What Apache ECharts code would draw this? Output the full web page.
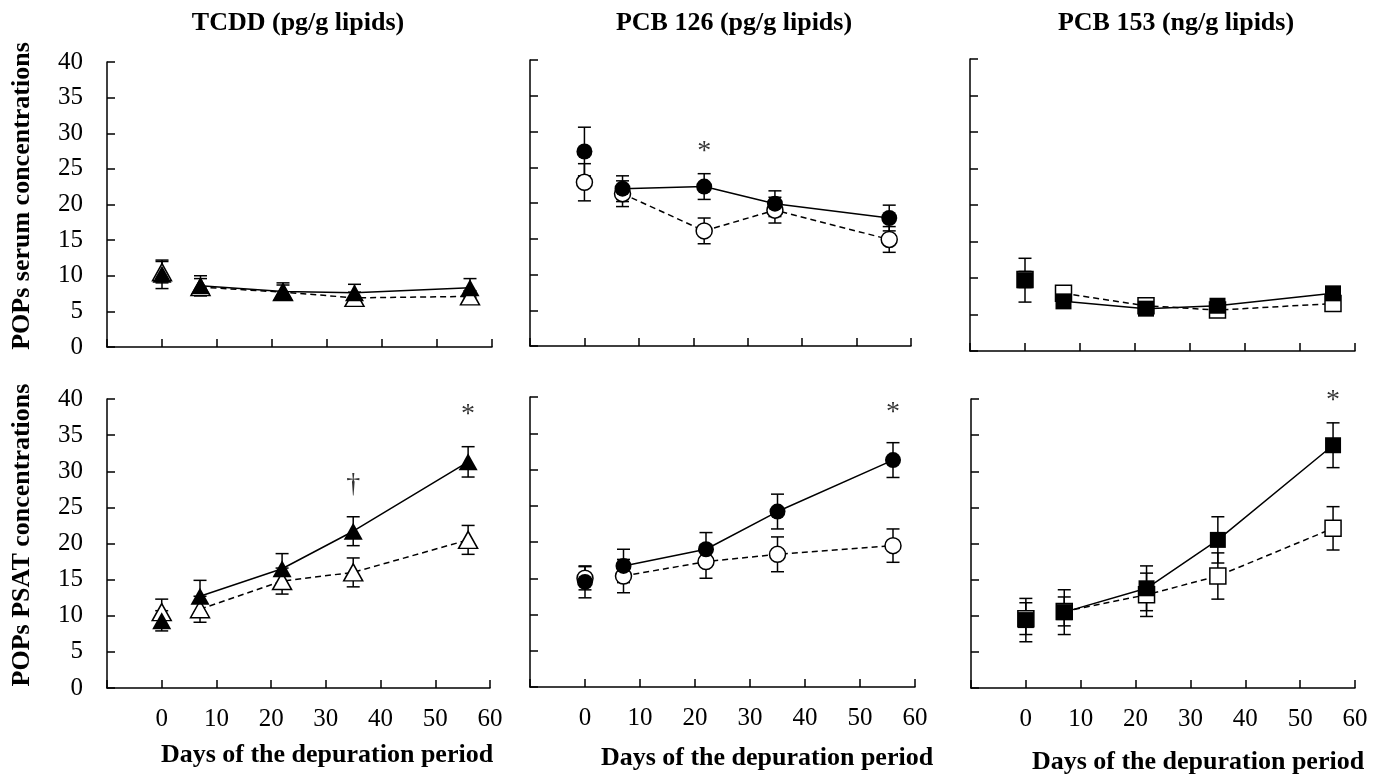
<!DOCTYPE html>
<html><head><meta charset="utf-8">
<script src="https://cdn.jsdelivr.net/npm/echarts@6/dist/echarts.min.js"></script>
<style>html,body{margin:0;padding:0;background:#fff}#c{width:1385px;height:775px}</style>
</head><body><div id="c"></div><script>
// ---------- data ----------
const days = [0, 7, 22, 35, 56];

const tcddSerumFilled = [10.2, 8.6, 7.8, 7.6, 8.3];
const tcddSerumFilledErr = [2.0, 1.4, 1.2, 1.2, 1.3];
const tcddSerumOpen = [10.5, 8.4, 7.7, 6.9, 7.1];
const tcddSerumOpenErr = [1.5, 1.2, 1.0, 0.8, 0.8];

const tcddPsatFilled = [9.3, 12.7, 16.5, 21.7, 31.3];
const tcddPsatFilledErr = [1.4, 2.2, 2.1, 2.0, 2.1];
const tcddPsatOpen = [10.5, 10.9, 14.8, 16.0, 20.5];
const tcddPsatOpenErr = [1.8, 1.8, 1.8, 2.0, 2.0];

const pcb126SerumFilled = [27.2, 22.0, 22.3, 19.9, 17.9];
const pcb126SerumFilledErr = [3.4, 1.8, 1.8, 1.8, 1.8];
const pcb126SerumOpen = [22.9, 21.3, 16.1, 19.0, 14.9];
const pcb126SerumOpenErr = [2.6, 1.8, 1.8, 1.8, 1.8];

const pcb126PsatFilled = [14.5, 16.7, 19.0, 24.2, 31.3];
const pcb126PsatFilledErr = [2.2, 2.3, 2.3, 2.4, 2.4];
const pcb126PsatOpen = [15.0, 15.3, 17.3, 18.3, 19.5];
const pcb126PsatOpenErr = [1.6, 2.3, 2.3, 2.4, 2.3];

const pcb153SerumFilled = [9.7, 6.8, 5.8, 6.2, 7.9];
const pcb153SerumFilledErr = [3.0, 0.6, 0.5, 0.6, 0.6];
const pcb153SerumOpen = [9.8, 7.9, 6.2, 5.6, 6.5];
const pcb153SerumOpenErr = [1.1, 0.9, 1.0, 0.8, 1.0];

const pcb153PsatFilled = [9.4, 10.5, 13.8, 20.5, 33.6];
const pcb153PsatFilledErr = [3.0, 3.1, 3.1, 3.2, 3.1];
const pcb153PsatOpen = [9.6, 10.6, 12.9, 15.5, 22.1];
const pcb153PsatOpenErr = [2.2, 2.0, 3.0, 3.2, 3.0];

// significance marks: [day, value, text]
const notesTcddPsat = [[35, 28.2, '†'], [56, 37.8, '*']];
const notesPcb126Serum = [[22, 27.2, '*']];
const notesPcb126Psat = [[56, 37.8, '*']];
const notesPcb153Psat = [[56, 39.8, '*']];

const xTickLabels = [0, 10, 20, 30, 40, 50, 60];
const yTickLabels = [0, 5, 10, 15, 20, 25, 30, 35, 40];
const columnTitles = ['TCDD (pg/g lipids)', 'PCB 126 (pg/g lipids)', 'PCB 153 (ng/g lipids)'];
const rowTitles = ['POPs serum concentrations', 'POPs PSAT concentrations'];
const xTitle = 'Days of the depuration period';

// ---------- layout / style ----------
const FONT = '"Liberation Serif", "Times New Roman", serif';
const grids = [
  {left: 107, top: 62, width: 385, height: 285},
  {left: 530, top: 60, width: 381, height: 286},
  {left: 970, top: 59, width: 385, height: 292},
  {left: 107, top: 399, width: 383, height: 289},
  {left: 530, top: 397, width: 385, height: 290},
  {left: 971, top: 399, width: 384, height: 289}
];
const panels = [
  {f: tcddSerumFilled, fe: tcddSerumFilledErr, o: tcddSerumOpen, oe: tcddSerumOpenErr, sym: 'triangle', size: [19, 17], notes: []},
  {f: pcb126SerumFilled, fe: pcb126SerumFilledErr, o: pcb126SerumOpen, oe: pcb126SerumOpenErr, sym: 'circle', size: 16, notes: notesPcb126Serum},
  {f: pcb153SerumFilled, fe: pcb153SerumFilledErr, o: pcb153SerumOpen, oe: pcb153SerumOpenErr, sym: 'rect', size: 16, notes: []},
  {f: tcddPsatFilled, fe: tcddPsatFilledErr, o: tcddPsatOpen, oe: tcddPsatOpenErr, sym: 'triangle', size: [19, 17], notes: notesTcddPsat},
  {f: pcb126PsatFilled, fe: pcb126PsatFilledErr, o: pcb126PsatOpen, oe: pcb126PsatOpenErr, sym: 'circle', size: 16, notes: notesPcb126Psat},
  {f: pcb153PsatFilled, fe: pcb153PsatFilledErr, o: pcb153PsatOpen, oe: pcb153PsatOpenErr, sym: 'rect', size: 16, notes: notesPcb153Psat}
];

function errRender(params, api) {
  const x = api.value(0), y = api.value(1), e = api.value(2);
  const p1 = api.coord([x, y + e]);
  const p2 = api.coord([x, y - e]);
  const hw = 6.5;
  const style = {stroke: '#000', lineWidth: 1.5, fill: null};
  return {type: 'group', children: [
    {type: 'line', shape: {x1: p1[0], y1: p1[1], x2: p2[0], y2: p2[1]}, style: style},
    {type: 'line', shape: {x1: p1[0] - hw, y1: p1[1], x2: p1[0] + hw, y2: p1[1]}, style: style},
    {type: 'line', shape: {x1: p2[0] - hw, y1: p2[1], x2: p2[0] + hw, y2: p2[1]}, style: style}
  ]};
}

const xAxes = [], yAxes = [], series = [];
panels.forEach((p, i) => {
  const row = Math.floor(i / 3), col = i % 3;
  xAxes.push({
    gridIndex: i, type: 'value', min: -10, max: 60, interval: 10,
    axisLine: {onZero: false, lineStyle: {color: '#000', width: 1.5}},
    axisTick: {inside: true, length: 8, lineStyle: {color: '#000', width: 1.5}},
    splitLine: {show: false},
    axisLabel: {show: row === 1, color: '#000', fontSize: 25, fontFamily: FONT, margin: 19,
      formatter: v => (xTickLabels.indexOf(v) >= 0 ? String(v) : '')}
  });
  yAxes.push({
    gridIndex: i, type: 'value', min: 0, max: 40, interval: 5,
    axisLine: {show: true, onZero: false, lineStyle: {color: '#000', width: 1.5}},
    axisTick: {show: true, inside: true, length: 8, lineStyle: {color: '#000', width: 1.5}},
    splitLine: {show: false},
    axisLabel: {show: col === 0, color: '#000', fontSize: 25, fontFamily: FONT, margin: 24,
      formatter: v => (yTickLabels.indexOf(v) >= 0 ? String(v) : '')}
  });
  const pts = (vals, errs) => days.map((d, k) => [d, vals[k], errs[k]]);
  // error bars
  series.push({type: 'custom', xAxisIndex: i, yAxisIndex: i, renderItem: errRender, data: pts(p.o, p.oe), z: 1, silent: true, encode: {x: 0, y: 1}});
  series.push({type: 'custom', xAxisIndex: i, yAxisIndex: i, renderItem: errRender, data: pts(p.f, p.fe), z: 1, silent: true, encode: {x: 0, y: 1}});
  // connecting lines (day 0 not joined)
  series.push({type: 'line', xAxisIndex: i, yAxisIndex: i, symbol: 'none', showSymbol: false, silent: true, z: 2,
    data: days.slice(1).map((d, k) => [d, p.o[k + 1]]),
    lineStyle: {color: '#000', width: 1.5, type: [6, 4]}});
  series.push({type: 'line', xAxisIndex: i, yAxisIndex: i, symbol: 'none', showSymbol: false, silent: true, z: 2,
    data: days.slice(1).map((d, k) => [d, p.f[k + 1]]),
    lineStyle: {color: '#000', width: 1.5, type: 'solid'}});
  // markers
  series.push({type: 'scatter', xAxisIndex: i, yAxisIndex: i, symbol: p.sym, symbolSize: p.size, silent: true, z: 3,
    data: days.map((d, k) => [d, p.o[k]]),
    itemStyle: {color: '#fff', borderColor: '#000', borderWidth: 1.5, opacity: 1}});
  series.push({type: 'scatter', xAxisIndex: i, yAxisIndex: i, symbol: p.sym, symbolSize: p.size, silent: true, z: 4,
    data: days.map((d, k) => [d, p.f[k]]),
    itemStyle: {color: '#000', borderWidth: 0, opacity: 1}});
  if (p.notes.length) {
    series.push({type: 'scatter', xAxisIndex: i, yAxisIndex: i, symbol: 'circle', symbolSize: 1, silent: true, z: 5,
      data: p.notes.map(n => ({value: [n[0], n[1]], name: n[2]})),
      itemStyle: {color: 'rgba(0,0,0,0)'},
      label: {show: true, position: 'inside', formatter: q => q.name, color: '#000', fontSize: 28, fontFamily: FONT}});
  }
});

const graphic = [];
const colCenters = [298, 734, 1176];
columnTitles.forEach((t, c) => graphic.push({type: 'text', x: colCenters[c], y: 23,
  style: {text: t, font: 'bold 26px ' + FONT, fill: '#000', textAlign: 'center', verticalAlign: 'middle', textVerticalAlign: 'middle'}}));
const rowCenters = [196, 535];
rowTitles.forEach((t, r) => graphic.push({type: 'text', x: 22, y: rowCenters[r], rotation: Math.PI / 2,
  style: {text: t, font: 'bold 26px ' + FONT, fill: '#000', textAlign: 'center', verticalAlign: 'middle', textVerticalAlign: 'middle'}}));
const xTitlePos = [[327, 755], [767, 758], [1198, 762]];
xTitlePos.forEach(pos => graphic.push({type: 'text', x: pos[0], y: pos[1],
  style: {text: xTitle, font: 'bold 26px ' + FONT, fill: '#000', textAlign: 'center', verticalAlign: 'middle', textVerticalAlign: 'middle'}}));

const chart = echarts.init(document.getElementById('c'), null, {renderer: 'canvas'});
chart.setOption({
  backgroundColor: '#fff',
  animation: false,
  grid: grids.map(g => Object.assign({containLabel: false, outerBoundsMode: 'none'}, g)),
  xAxis: xAxes,
  yAxis: yAxes,
  series: series,
  graphic: graphic
});
</script></body></html>
